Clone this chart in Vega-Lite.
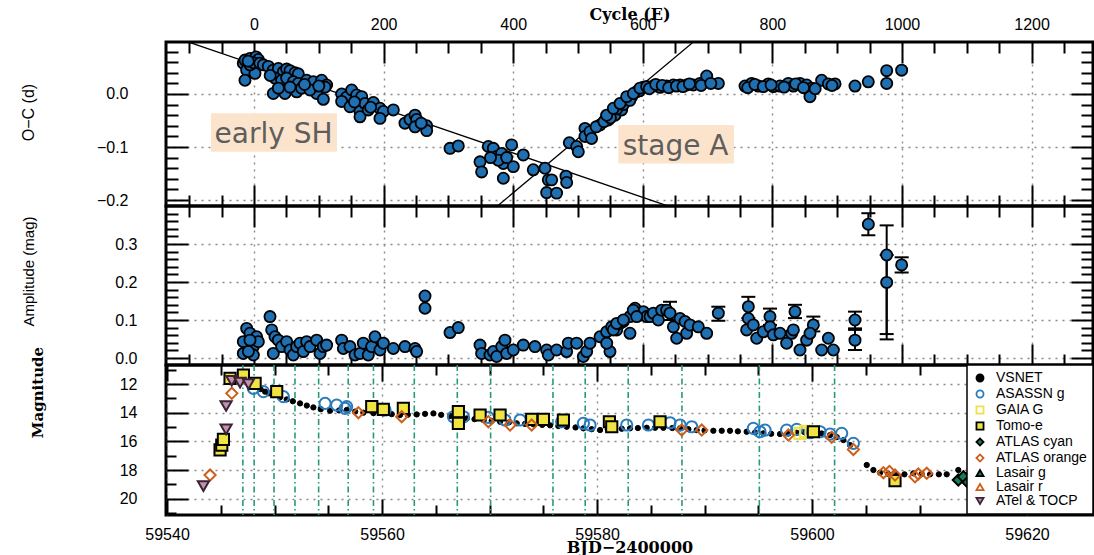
{
  "$schema": "https://vega.github.io/schema/vega-lite/v6.json",
  "autosize": "none",
  "padding": {"left": 166, "top": 42, "right": 1, "bottom": 513},
  "background": "white",
  "spacing": 0,
  "bounds": "flush",
  "resolve": {
    "scale": {"x": "independent", "y": "independent", "shape": "independent", "fill": "independent", "stroke": "independent"},
    "legend": {"shape": "independent", "fill": "independent", "stroke": "independent"}
  },
  "datasets": {
    "oc": [
      {"cycle": -16.5, "oc": 0.058}, {"cycle": -13.9, "oc": 0.064}, {"cycle": -6.2, "oc": 0.067}, {"cycle": 3.1, "oc": 0.07}, {"cycle": 6.7, "oc": 0.065}, {"cycle": -11.3, "oc": 0.045}, {"cycle": 1.5, "oc": 0.039}, {"cycle": -13.9, "oc": 0.026}, {"cycle": -6.2, "oc": 0.055}, {"cycle": -1, "oc": 0.059}, {"cycle": -9, "oc": 0.062}, {"cycle": 9, "oc": 0.058},
      {"cycle": 14.4, "oc": 0.055}, {"cycle": 22.1, "oc": 0.052}, {"cycle": 29.8, "oc": 0.045}, {"cycle": 37.6, "oc": 0.048}, {"cycle": 45.3, "oc": 0.042}, {"cycle": 50.4, "oc": 0.047}, {"cycle": 55.6, "oc": 0.044}, {"cycle": 63.3, "oc": 0.04}, {"cycle": 68.4, "oc": 0.038}, {"cycle": 32.4, "oc": 0.03}, {"cycle": 42.7, "oc": 0.026}, {"cycle": 50.4, "oc": 0.03}, {"cycle": 60.7, "oc": 0.023}, {"cycle": 68.4, "oc": 0.02}, {"cycle": 81.3, "oc": 0.026}, {"cycle": 91.6, "oc": 0.023}, {"cycle": 104.4, "oc": 0.026}, {"cycle": 112.1, "oc": 0.017}, {"cycle": 29.8, "oc": 0.001}, {"cycle": 47.8, "oc": 0.001}, {"cycle": 65.8, "oc": 0.004}, {"cycle": 96.7, "oc": 0.001}, {"cycle": 107, "oc": -0.01}, {"cycle": 109.6, "oc": 0.013}, {"cycle": 73.6, "oc": 0.011}, {"cycle": 86.4, "oc": 0.0075}, {"cycle": 37.6, "oc": 0.011}, {"cycle": 55.6, "oc": 0.013}, {"cycle": 25, "oc": 0.035}, {"cycle": 78, "oc": 0.018}, {"cycle": 100, "oc": 0.015},
      {"cycle": 135.3, "oc": 0.0}, {"cycle": 143, "oc": -0.006}, {"cycle": 150.7, "oc": 0.0075}, {"cycle": 158.4, "oc": -0.002}, {"cycle": 166.2, "oc": -0.005}, {"cycle": 135.3, "oc": -0.014}, {"cycle": 148.1, "oc": -0.024}, {"cycle": 163.6, "oc": -0.033}, {"cycle": 163.6, "oc": -0.043}, {"cycle": 171.3, "oc": -0.018}, {"cycle": 184.2, "oc": -0.016}, {"cycle": 194.4, "oc": -0.027}, {"cycle": 199.6, "oc": -0.033}, {"cycle": 194.4, "oc": -0.046}, {"cycle": 215, "oc": -0.03}, {"cycle": 233, "oc": -0.055}, {"cycle": 240.7, "oc": -0.048}, {"cycle": 248.5, "oc": -0.04}, {"cycle": 251, "oc": -0.048}, {"cycle": 266.5, "oc": -0.06}, {"cycle": 266.5, "oc": -0.069}, {"cycle": 248.5, "oc": -0.062}, {"cycle": 176.4, "oc": -0.03}, {"cycle": 155, "oc": -0.015}, {"cycle": 180, "oc": -0.025}, {"cycle": 258, "oc": -0.055},
      {"cycle": 302.5, "oc": -0.1025}, {"cycle": 315.3, "oc": -0.098},
      {"cycle": 348.8, "oc": -0.128}, {"cycle": 351.3, "oc": -0.147}, {"cycle": 361.6, "oc": -0.099}, {"cycle": 369.3, "oc": -0.1025}, {"cycle": 374.5, "oc": -0.118}, {"cycle": 382.2, "oc": -0.112}, {"cycle": 384.8, "oc": -0.131}, {"cycle": 384.8, "oc": -0.159}, {"cycle": 397.6, "oc": -0.096}, {"cycle": 400.2, "oc": -0.137}, {"cycle": 415.6, "oc": -0.115}, {"cycle": 431, "oc": -0.143}, {"cycle": 449.1, "oc": -0.14}, {"cycle": 454.2, "oc": -0.162}, {"cycle": 459.4, "oc": -0.162}, {"cycle": 451.6, "oc": -0.186}, {"cycle": 467, "oc": -0.187}, {"cycle": 481.5, "oc": -0.155}, {"cycle": 482.5, "oc": -0.167}, {"cycle": 377, "oc": -0.125}, {"cycle": 365, "oc": -0.12}, {"cycle": 390, "oc": -0.12},
      {"cycle": 486.6, "oc": -0.092}, {"cycle": 498, "oc": -0.099}, {"cycle": 500.5, "oc": -0.109}, {"cycle": 510.8, "oc": -0.065}, {"cycle": 510.8, "oc": -0.08}, {"cycle": 518.5, "oc": -0.071}, {"cycle": 521, "oc": -0.084}, {"cycle": 534, "oc": -0.0585}, {"cycle": 544.2, "oc": -0.043}, {"cycle": 554.5, "oc": -0.033}, {"cycle": 564.8, "oc": -0.019}, {"cycle": 575.1, "oc": -0.01}, {"cycle": 582.8, "oc": -0.005}, {"cycle": 590.5, "oc": 0.0044}, {"cycle": 600.8, "oc": 0.0126}, {"cycle": 546.8, "oc": -0.049}, {"cycle": 557.1, "oc": -0.04}, {"cycle": 567.4, "oc": -0.03}, {"cycle": 528, "oc": -0.062}, {"cycle": 540, "oc": -0.052}, {"cycle": 550, "oc": -0.045}, {"cycle": 560, "oc": -0.028}, {"cycle": 570, "oc": -0.02}, {"cycle": 580, "oc": -0.012}, {"cycle": 595, "oc": 0.006}, {"cycle": 544.3, "oc": -0.04}, {"cycle": 554.6, "oc": -0.027}, {"cycle": 564.9, "oc": -0.018}, {"cycle": 575.2, "oc": -0.005}, {"cycle": 585.4, "oc": 0.001}, {"cycle": 595.7, "oc": 0.011},
      {"cycle": 606, "oc": 0.014}, {"cycle": 616.3, "oc": 0.015}, {"cycle": 626.6, "oc": 0.0126}, {"cycle": 636.9, "oc": 0.015}, {"cycle": 647.2, "oc": 0.017}, {"cycle": 657.5, "oc": 0.017}, {"cycle": 667.7, "oc": 0.017}, {"cycle": 678, "oc": 0.017}, {"cycle": 688.3, "oc": 0.02}, {"cycle": 698.6, "oc": 0.034}, {"cycle": 716.6, "oc": 0.02}, {"cycle": 610, "oc": 0.01}, {"cycle": 620, "oc": 0.018}, {"cycle": 630, "oc": 0.016}, {"cycle": 640, "oc": 0.012}, {"cycle": 652, "oc": 0.015}, {"cycle": 662, "oc": 0.014}, {"cycle": 672, "oc": 0.019}, {"cycle": 690, "oc": 0.016}, {"cycle": 705, "oc": 0.02},
      {"cycle": 757.8, "oc": 0.015}, {"cycle": 768, "oc": 0.02}, {"cycle": 778.3, "oc": 0.015}, {"cycle": 793.8, "oc": 0.019}, {"cycle": 801.5, "oc": 0.014}, {"cycle": 811.8, "oc": 0.015}, {"cycle": 824.6, "oc": 0.02}, {"cycle": 832.4, "oc": 0.015}, {"cycle": 842.6, "oc": 0.02}, {"cycle": 852.9, "oc": 0.017}, {"cycle": 860.6, "oc": 0.011}, {"cycle": 858, "oc": -0.005}, {"cycle": 876, "oc": 0.026}, {"cycle": 886.4, "oc": 0.019}, {"cycle": 896.7, "oc": 0.019}, {"cycle": 762, "oc": 0.012}, {"cycle": 773, "oc": 0.018}, {"cycle": 786, "oc": 0.014}, {"cycle": 798, "oc": 0.017}, {"cycle": 818, "oc": 0.013}, {"cycle": 836, "oc": 0.019}, {"cycle": 848, "oc": 0.012}, {"cycle": 866, "oc": 0.01}, {"cycle": 892, "oc": 0.016},
      {"cycle": 927.5, "oc": 0.015}, {"cycle": 948, "oc": 0.023}, {"cycle": 976.4, "oc": 0.044}, {"cycle": 976.4, "oc": 0.02}, {"cycle": 999.5, "oc": 0.045}
    ],
    "fits": [
      {"fit": "early SH", "cycle": -99.8, "oc": 0.0975}, {"fit": "early SH", "cycle": 642, "oc": -0.2126},
      {"fit": "stage A", "cycle": 374.5, "oc": -0.2126}, {"fit": "stage A", "cycle": 677.5, "oc": 0.0975}
    ],
    "notes": [
      {"label": "early SH", "c1": -66.4, "c2": 128.1, "o1": -0.0364, "o2": -0.1089, "cx": 30.1, "cy": -0.093},
      {"label": "stage A", "c1": 562.2, "c2": 740.7, "o1": -0.0585, "o2": -0.131, "cx": 650.6, "cy": -0.115}
    ],
    "amp": [
      {"cycle": -16.5, "amp": 0.012}, {"cycle": -11.3, "amp": 0.078}, {"cycle": -6.2, "amp": 0.065}, {"cycle": -16.5, "amp": 0.043}, {"cycle": -1, "amp": 0.03}, {"cycle": 4.1, "amp": 0.056}, {"cycle": 6.7, "amp": 0.043}, {"cycle": -1, "amp": 0.008}, {"cycle": -8.7, "amp": 0.017}, {"cycle": -6.2, "amp": 0.047},
      {"cycle": 24.7, "amp": 0.109}, {"cycle": 27.3, "amp": 0.074}, {"cycle": 32.4, "amp": 0.056}, {"cycle": 29.8, "amp": 0.012}, {"cycle": 37.6, "amp": 0.047}, {"cycle": 42.7, "amp": 0.03}, {"cycle": 50.4, "amp": 0.043}, {"cycle": 55.6, "amp": 0.021}, {"cycle": 60.7, "amp": 0.008}, {"cycle": 65.8, "amp": 0.03}, {"cycle": 71, "amp": 0.039}, {"cycle": 76.1, "amp": 0.017}, {"cycle": 81.3, "amp": 0.043}, {"cycle": 86.4, "amp": 0.03}, {"cycle": 96.7, "amp": 0.047}, {"cycle": 101.9, "amp": 0.012}, {"cycle": 107, "amp": 0.03}, {"cycle": 112.1, "amp": 0.034},
      {"cycle": 135.3, "amp": 0.047}, {"cycle": 137.9, "amp": 0.025}, {"cycle": 148.1, "amp": 0.03}, {"cycle": 155.9, "amp": 0.008}, {"cycle": 163.6, "amp": 0.012}, {"cycle": 168.7, "amp": 0.039}, {"cycle": 176.4, "amp": 0.008}, {"cycle": 181.6, "amp": 0.03}, {"cycle": 186.7, "amp": 0.056}, {"cycle": 194.4, "amp": 0.021}, {"cycle": 199.6, "amp": 0.039}, {"cycle": 215, "amp": 0.025}, {"cycle": 233, "amp": 0.03}, {"cycle": 248.5, "amp": 0.025}, {"cycle": 251, "amp": 0.017},
      {"cycle": 263.9, "amp": 0.163}, {"cycle": 263.9, "amp": 0.131}, {"cycle": 302.5, "amp": 0.067}, {"cycle": 315.3, "amp": 0.08},
      {"cycle": 348.8, "amp": 0.034}, {"cycle": 351.3, "amp": 0.012}, {"cycle": 364.2, "amp": 0.008}, {"cycle": 369.3, "amp": 0.017}, {"cycle": 374.5, "amp": 0.004}, {"cycle": 382.2, "amp": 0.03}, {"cycle": 387.3, "amp": 0.047}, {"cycle": 389.9, "amp": 0.012}, {"cycle": 400.2, "amp": 0.021}, {"cycle": 415.6, "amp": 0.034}, {"cycle": 433.6, "amp": 0.03}, {"cycle": 451.6, "amp": 0.021}, {"cycle": 454.2, "amp": 0.008}, {"cycle": 467, "amp": 0.021}, {"cycle": 482.5, "amp": 0.017}, {"cycle": 485.1, "amp": 0.039}, {"cycle": 497.9, "amp": 0.039}, {"cycle": 508.2, "amp": 0.004}, {"cycle": 513.4, "amp": 0.017}, {"cycle": 518.5, "amp": 0.039},
      {"cycle": 534, "amp": 0.056}, {"cycle": 544.2, "amp": 0.069}, {"cycle": 549.4, "amp": 0.017}, {"cycle": 552, "amp": 0.082}, {"cycle": 559.7, "amp": 0.074}, {"cycle": 564.8, "amp": 0.091}, {"cycle": 570, "amp": 0.096}, {"cycle": 580.2, "amp": 0.065}, {"cycle": 580.2, "amp": 0.109}, {"cycle": 588, "amp": 0.131}, {"cycle": 595.7, "amp": 0.113}, {"cycle": 600.8, "amp": 0.122}, {"cycle": 606, "amp": 0.109}, {"cycle": 544.3, "amp": 0.039}, {"cycle": 554.6, "amp": 0.074}, {"cycle": 559.7, "amp": 0.091}, {"cycle": 570, "amp": 0.1}, {"cycle": 585.4, "amp": 0.126}, {"cycle": 590.6, "amp": 0.109},
      {"cycle": 611.2, "amp": 0.109}, {"cycle": 616.3, "amp": 0.118}, {"cycle": 624, "amp": 0.1}, {"cycle": 629.2, "amp": 0.126}, {"cycle": 636.9, "amp": 0.126}, {"cycle": 642, "amp": 0.118}, {"cycle": 647.2, "amp": 0.082}, {"cycle": 652.3, "amp": 0.052}, {"cycle": 657.5, "amp": 0.104}, {"cycle": 665.2, "amp": 0.096}, {"cycle": 667.7, "amp": 0.065}, {"cycle": 672.9, "amp": 0.087}, {"cycle": 685.7, "amp": 0.082}, {"cycle": 698.6, "amp": 0.065}, {"cycle": 716.6, "amp": 0.118},
      {"cycle": 762.9, "amp": 0.135}, {"cycle": 762.9, "amp": 0.104}, {"cycle": 760.3, "amp": 0.074}, {"cycle": 770.6, "amp": 0.087}, {"cycle": 775.8, "amp": 0.052}, {"cycle": 786, "amp": 0.069}, {"cycle": 796.3, "amp": 0.109}, {"cycle": 796.3, "amp": 0.082}, {"cycle": 801.5, "amp": 0.061}, {"cycle": 811.8, "amp": 0.065}, {"cycle": 822, "amp": 0.039}, {"cycle": 829.8, "amp": 0.065}, {"cycle": 834.9, "amp": 0.122}, {"cycle": 832.4, "amp": 0.074}, {"cycle": 842.6, "amp": 0.021}, {"cycle": 852.9, "amp": 0.047}, {"cycle": 863.2, "amp": 0.087}, {"cycle": 858.1, "amp": 0.065}, {"cycle": 876.1, "amp": 0.021}, {"cycle": 886.4, "amp": 0.052}, {"cycle": 894.1, "amp": 0.021},
      {"cycle": 927.5, "amp": 0.1}, {"cycle": 927.5, "amp": 0.047}, {"cycle": 948.1, "amp": 0.352}, {"cycle": 976.4, "amp": 0.271}, {"cycle": 976.4, "amp": 0.199}, {"cycle": 999.5, "amp": 0.245}
    ],
    "amperr": [
      {"cycle": 948.1, "lo": 0.323, "hi": 0.381}, {"cycle": 976.4, "lo": 0.049, "hi": 0.349}, {"cycle": 976.4, "lo": 0.063, "hi": 0.271}, {"cycle": 999.5, "lo": 0.225, "hi": 0.265},
      {"cycle": 927.5, "lo": 0.078, "hi": 0.122}, {"cycle": 927.5, "lo": 0.021, "hi": 0.074}, {"cycle": 834.9, "lo": 0.105, "hi": 0.14}, {"cycle": 796.3, "lo": 0.087, "hi": 0.13},
      {"cycle": 762.9, "lo": 0.105, "hi": 0.161}, {"cycle": 716.6, "lo": 0.098, "hi": 0.135}, {"cycle": 863.2, "lo": 0.07, "hi": 0.109}, {"cycle": 642, "lo": 0.1, "hi": 0.148}
    ],
    "epochs": [
      {"bjd": 59547.05}, {"bjd": 59548.1}, {"bjd": 59549.95}, {"bjd": 59551.9}, {"bjd": 59554.1}, {"bjd": 59556.85}, {"bjd": 59559.2}, {"bjd": 59563.0}, {"bjd": 59567.0}, {"bjd": 59570.1}, {"bjd": 59575.9}, {"bjd": 59578.9}, {"bjd": 59582.9}, {"bjd": 59587.9}, {"bjd": 59595.1}, {"bjd": 59602.1}
    ],
    "vsnet": [
      {"bjd": 59547.1, "mag": 11.49, "source": "VSNET"}, {"bjd": 59547.4, "mag": 11.7, "source": "VSNET"}, {"bjd": 59547.72, "mag": 11.84, "source": "VSNET"}, {"bjd": 59548.0, "mag": 12.0, "source": "VSNET"}, {"bjd": 59548.34, "mag": 12.19, "source": "VSNET"}, {"bjd": 59548.7, "mag": 12.35, "source": "VSNET"}, {"bjd": 59549.12, "mag": 12.53, "source": "VSNET"}, {"bjd": 59549.5, "mag": 12.65, "source": "VSNET"}, {"bjd": 59549.89, "mag": 12.77, "source": "VSNET"}, {"bjd": 59550.5, "mag": 12.93, "source": "VSNET"},
      {"bjd": 59551.13, "mag": 13.07, "source": "VSNET"}, {"bjd": 59551.7, "mag": 13.2, "source": "VSNET"}, {"bjd": 59552.37, "mag": 13.35, "source": "VSNET"}, {"bjd": 59553.0, "mag": 13.5, "source": "VSNET"}, {"bjd": 59553.61, "mag": 13.63, "source": "VSNET"}, {"bjd": 59554.3, "mag": 13.75, "source": "VSNET"}, {"bjd": 59555.16, "mag": 13.86, "source": "VSNET"}, {"bjd": 59556.0, "mag": 13.84, "source": "VSNET"}, {"bjd": 59556.71, "mag": 13.81, "source": "VSNET"}, {"bjd": 59557.5, "mag": 13.92, "source": "VSNET"},
      {"bjd": 59558.26, "mag": 14.0, "source": "VSNET"}, {"bjd": 59559.2, "mag": 14.03, "source": "VSNET"}, {"bjd": 59560.12, "mag": 14.05, "source": "VSNET"}, {"bjd": 59560.9, "mag": 14.1, "source": "VSNET"}, {"bjd": 59561.67, "mag": 14.16, "source": "VSNET"}, {"bjd": 59562.4, "mag": 14.14, "source": "VSNET"}, {"bjd": 59563.22, "mag": 14.12, "source": "VSNET"}, {"bjd": 59564.0, "mag": 14.08, "source": "VSNET"}, {"bjd": 59564.78, "mag": 14.05, "source": "VSNET"}, {"bjd": 59565.5, "mag": 14.15, "source": "VSNET"},
      {"bjd": 59566.33, "mag": 14.23, "source": "VSNET"}, {"bjd": 59567.1, "mag": 14.32, "source": "VSNET"}, {"bjd": 59567.88, "mag": 14.4, "source": "VSNET"}, {"bjd": 59568.6, "mag": 14.45, "source": "VSNET"}, {"bjd": 59569.43, "mag": 14.51, "source": "VSNET"}, {"bjd": 59570.2, "mag": 14.57, "source": "VSNET"}, {"bjd": 59570.98, "mag": 14.63, "source": "VSNET"}, {"bjd": 59571.8, "mag": 14.68, "source": "VSNET"}, {"bjd": 59572.53, "mag": 14.74, "source": "VSNET"}, {"bjd": 59573.3, "mag": 14.78, "source": "VSNET"},
      {"bjd": 59574.08, "mag": 14.81, "source": "VSNET"}, {"bjd": 59574.9, "mag": 14.85, "source": "VSNET"}, {"bjd": 59575.63, "mag": 14.88, "source": "VSNET"}, {"bjd": 59576.4, "mag": 14.93, "source": "VSNET"}, {"bjd": 59577.18, "mag": 14.98, "source": "VSNET"}, {"bjd": 59578.0, "mag": 15.03, "source": "VSNET"}, {"bjd": 59578.73, "mag": 15.09, "source": "VSNET"}, {"bjd": 59579.5, "mag": 15.15, "source": "VSNET"}, {"bjd": 59580.28, "mag": 15.21, "source": "VSNET"}, {"bjd": 59581.0, "mag": 15.16, "source": "VSNET"},
      {"bjd": 59581.52, "mag": 15.16, "source": "VSNET"}, {"bjd": 59582.3, "mag": 15.12, "source": "VSNET"}, {"bjd": 59583.07, "mag": 15.09, "source": "VSNET"}, {"bjd": 59583.8, "mag": 15.07, "source": "VSNET"}, {"bjd": 59584.62, "mag": 15.05, "source": "VSNET"}, {"bjd": 59585.4, "mag": 15.05, "source": "VSNET"}, {"bjd": 59586.17, "mag": 15.05, "source": "VSNET"}, {"bjd": 59587.0, "mag": 15.07, "source": "VSNET"}, {"bjd": 59587.72, "mag": 15.09, "source": "VSNET"}, {"bjd": 59588.5, "mag": 15.15, "source": "VSNET"},
      {"bjd": 59589.27, "mag": 15.21, "source": "VSNET"}, {"bjd": 59590.0, "mag": 15.24, "source": "VSNET"}, {"bjd": 59590.82, "mag": 15.26, "source": "VSNET"}, {"bjd": 59591.6, "mag": 15.26, "source": "VSNET"}, {"bjd": 59592.37, "mag": 15.26, "source": "VSNET"}, {"bjd": 59593.1, "mag": 15.3, "source": "VSNET"}, {"bjd": 59593.92, "mag": 15.33, "source": "VSNET"}, {"bjd": 59594.7, "mag": 15.38, "source": "VSNET"}, {"bjd": 59595.47, "mag": 15.44, "source": "VSNET"}, {"bjd": 59596.2, "mag": 15.47, "source": "VSNET"},
      {"bjd": 59597.02, "mag": 15.49, "source": "VSNET"}, {"bjd": 59597.8, "mag": 15.45, "source": "VSNET"}, {"bjd": 59598.58, "mag": 15.4, "source": "VSNET"}, {"bjd": 59599.3, "mag": 15.36, "source": "VSNET"}, {"bjd": 59600.13, "mag": 15.33, "source": "VSNET"}, {"bjd": 59600.9, "mag": 15.45, "source": "VSNET"}, {"bjd": 59601.68, "mag": 15.56, "source": "VSNET"}, {"bjd": 59602.3, "mag": 15.7, "source": "VSNET"}, {"bjd": 59602.92, "mag": 15.91, "source": "VSNET"}, {"bjd": 59603.54, "mag": 16.26, "source": "VSNET"},
      {"bjd": 59605.09, "mag": 17.65, "source": "VSNET"}, {"bjd": 59605.71, "mag": 18.0, "source": "VSNET"}, {"bjd": 59606.33, "mag": 18.19, "source": "VSNET"}, {"bjd": 59607.1, "mag": 18.28, "source": "VSNET"}, {"bjd": 59607.88, "mag": 18.35, "source": "VSNET"}, {"bjd": 59608.6, "mag": 18.3, "source": "VSNET"}, {"bjd": 59609.43, "mag": 18.23, "source": "VSNET"}, {"bjd": 59610.2, "mag": 18.27, "source": "VSNET"}, {"bjd": 59610.98, "mag": 18.3, "source": "VSNET"}, {"bjd": 59611.8, "mag": 18.3, "source": "VSNET"},
      {"bjd": 59612.53, "mag": 18.3, "source": "VSNET"}, {"bjd": 59613.61, "mag": 18.0, "source": "VSNET"}, {"bjd": 59614.39, "mag": 18.35, "source": "VSNET"}
    ],
    "others": [
      {"bjd": 59548.03, "mag": 12.3, "source": "ASASSN g"}, {"bjd": 59548.96, "mag": 12.53, "source": "ASASSN g"}, {"bjd": 59550.82, "mag": 12.88, "source": "ASASSN g"}, {"bjd": 59554.7, "mag": 13.35, "source": "ASASSN g"}, {"bjd": 59555.78, "mag": 13.47, "source": "ASASSN g"}, {"bjd": 59556.56, "mag": 13.7, "source": "ASASSN g"}, {"bjd": 59556.71, "mag": 13.58, "source": "ASASSN g"}, {"bjd": 59560.28, "mag": 13.81, "source": "ASASSN g"}, {"bjd": 59566.64, "mag": 14.28, "source": "ASASSN g"}, {"bjd": 59567.57, "mag": 14.28, "source": "ASASSN g"}, {"bjd": 59569.89, "mag": 14.33, "source": "ASASSN g"}, {"bjd": 59571.44, "mag": 14.51, "source": "ASASSN g"}, {"bjd": 59572.84, "mag": 14.51, "source": "ASASSN g"}, {"bjd": 59576.71, "mag": 14.63, "source": "ASASSN g"}, {"bjd": 59578.73, "mag": 14.74, "source": "ASASSN g"}, {"bjd": 59579.35, "mag": 14.86, "source": "ASASSN g"}, {"bjd": 59582.76, "mag": 14.86, "source": "ASASSN g"}, {"bjd": 59584.78, "mag": 14.86, "source": "ASASSN g"}, {"bjd": 59586.79, "mag": 14.7, "source": "ASASSN g"}, {"bjd": 59587.72, "mag": 14.86, "source": "ASASSN g"}, {"bjd": 59588.81, "mag": 14.98, "source": "ASASSN g"}, {"bjd": 59594.54, "mag": 15.09, "source": "ASASSN g"}, {"bjd": 59595.16, "mag": 15.33, "source": "ASASSN g"}, {"bjd": 59595.63, "mag": 15.21, "source": "ASASSN g"}, {"bjd": 59597.64, "mag": 15.21, "source": "ASASSN g"}, {"bjd": 59598.58, "mag": 15.16, "source": "ASASSN g"}, {"bjd": 59599.82, "mag": 15.4, "source": "ASASSN g"}, {"bjd": 59600.75, "mag": 15.33, "source": "ASASSN g"}, {"bjd": 59601.68, "mag": 15.49, "source": "ASASSN g"}, {"bjd": 59602.76, "mag": 15.44, "source": "ASASSN g"}, {"bjd": 59603.85, "mag": 16.14, "source": "ASASSN g"},
      {"bjd": 59598.89, "mag": 15.44, "source": "GAIA G"}, {"bjd": 59599.4, "mag": 15.3, "source": "GAIA G"},
      {"bjd": 59544.93, "mag": 16.6, "source": "Tomo-e"}, {"bjd": 59545.09, "mag": 16.26, "source": "Tomo-e"}, {"bjd": 59545.24, "mag": 15.86, "source": "Tomo-e"}, {"bjd": 59545.86, "mag": 11.6, "source": "Tomo-e"}, {"bjd": 59547.1, "mag": 11.37, "source": "Tomo-e"}, {"bjd": 59548.19, "mag": 11.95, "source": "Tomo-e"}, {"bjd": 59550.2, "mag": 12.53, "source": "Tomo-e"}, {"bjd": 59559.04, "mag": 13.58, "source": "Tomo-e"}, {"bjd": 59560.12, "mag": 13.77, "source": "Tomo-e"}, {"bjd": 59561.98, "mag": 13.7, "source": "Tomo-e"}, {"bjd": 59567.1, "mag": 13.93, "source": "Tomo-e"}, {"bjd": 59567.1, "mag": 14.74, "source": "Tomo-e"}, {"bjd": 59569.12, "mag": 14.16, "source": "Tomo-e"}, {"bjd": 59570.98, "mag": 14.16, "source": "Tomo-e"}, {"bjd": 59573.92, "mag": 14.47, "source": "Tomo-e"}, {"bjd": 59575.01, "mag": 14.47, "source": "Tomo-e"}, {"bjd": 59576.87, "mag": 14.51, "source": "Tomo-e"}, {"bjd": 59581.15, "mag": 14.63, "source": "Tomo-e"}, {"bjd": 59581.37, "mag": 14.98, "source": "Tomo-e"}, {"bjd": 59585.86, "mag": 14.63, "source": "Tomo-e"}, {"bjd": 59600.13, "mag": 15.33, "source": "Tomo-e"}, {"bjd": 59607.72, "mag": 18.74, "source": "Tomo-e"},
      {"bjd": 59613.61, "mag": 18.7, "source": "ATLAS cyan"}, {"bjd": 59614.08, "mag": 18.47, "source": "ATLAS cyan"}, {"bjd": 59614.5, "mag": 18.85, "source": "ATLAS cyan"}, {"bjd": 59616.5, "mag": 18.7, "source": "ATLAS cyan"}, {"bjd": 59619.0, "mag": 18.9, "source": "ATLAS cyan"},
      {"bjd": 59544.0, "mag": 18.35, "source": "ATLAS orange"}, {"bjd": 59546.02, "mag": 12.65, "source": "ATLAS orange"}, {"bjd": 59557.8, "mag": 14.0, "source": "ATLAS orange"}, {"bjd": 59561.83, "mag": 14.28, "source": "ATLAS orange"}, {"bjd": 59569.89, "mag": 14.63, "source": "ATLAS orange"}, {"bjd": 59571.91, "mag": 14.86, "source": "ATLAS orange"}, {"bjd": 59573.92, "mag": 14.86, "source": "ATLAS orange"}, {"bjd": 59587.88, "mag": 15.21, "source": "ATLAS orange"}, {"bjd": 59589.74, "mag": 15.21, "source": "ATLAS orange"}, {"bjd": 59597.8, "mag": 15.56, "source": "ATLAS orange"}, {"bjd": 59601.83, "mag": 15.72, "source": "ATLAS orange"}, {"bjd": 59603.85, "mag": 16.56, "source": "ATLAS orange"}, {"bjd": 59606.64, "mag": 18.19, "source": "ATLAS orange"}, {"bjd": 59607.72, "mag": 18.35, "source": "ATLAS orange"}, {"bjd": 59609.58, "mag": 18.47, "source": "ATLAS orange"}, {"bjd": 59610.67, "mag": 18.23, "source": "ATLAS orange"}, {"bjd": 59609.89, "mag": 18.28, "source": "ATLAS orange"}, {"bjd": 59607.2, "mag": 18.1, "source": "ATLAS orange"},
      {"bjd": 59617.5, "mag": 19.0, "source": "Lasair g"}, {"bjd": 59618.5, "mag": 18.5, "source": "Lasair r"},
      {"bjd": 59543.38, "mag": 19.12, "source": "ATel & TOCP"}, {"bjd": 59545.49, "mag": 13.53, "source": "ATel & TOCP"}, {"bjd": 59545.49, "mag": 15.16, "source": "ATel & TOCP"}, {"bjd": 59546.02, "mag": 11.77, "source": "ATel & TOCP"}, {"bjd": 59546.79, "mag": 11.9, "source": "ATel & TOCP"}, {"bjd": 59547.57, "mag": 12.0, "source": "ATel & TOCP"}
    ]
  },
  "vconcat": [
    {
      "width": 927,
      "height": 164,
      "resolve": {"axis": {"x": "independent", "y": "independent"}},
      "layer": [
        {
          "data": {"name": "fits"},
          "mark": {"type": "line", "color": "black", "strokeWidth": 1.3, "clip": true},
          "encoding": {
            "x": {"field": "cycle", "type": "quantitative", "scale": {"domain": [-135.8, 1294.8], "nice": false, "zero": false},
              "axis": {"orient": "top", "values": [-100,-50,0,50,100,150,200,250,300,350,400,450,500,550,600,650,700,750,800,850,900,950,1000,1050,1100,1150,1200,1250], "format": "d",
                "labelExpr": "datum.value % 200 === 0 ? datum.label : ''",
                "tickSize": {"condition": {"test": "datum.value % 200 === 0", "value": -21}, "value": -11},
                "labelPadding": 31, "grid": true,
                "gridOpacity": {"condition": {"test": "datum.value % 200 === 0", "value": 1}, "value": 0},
                "title": "Cycle (E)", "titleFont": "DejaVu Serif", "titleFontWeight": "bold", "titleFontSize": 16, "titleY": -23, "titleBaseline": "alphabetic"}},
            "y": {"field": "oc", "type": "quantitative", "scale": {"domain": [-0.2113, 0.0981], "nice": false, "zero": false},
              "axis": {"orient": "left", "values": [-0.2,-0.18,-0.16,-0.14,-0.12,-0.1,-0.08,-0.06,-0.04,-0.02,0,0.02,0.04,0.06,0.08], "format": ".1f",
                "labelExpr": "abs(datum.value*10-round(datum.value*10)) < 0.001 ? datum.label : ''",
                "tickSize": {"condition": {"test": "abs(datum.value*10-round(datum.value*10)) < 0.001", "value": -22}, "value": -12},
                "labelPadding": 60, "grid": true,
                "gridOpacity": {"condition": {"test": "abs(datum.value*10-round(datum.value*10)) < 0.001", "value": 1}, "value": 0},
                "title": "O−C (d)", "titleFont": "Liberation Sans", "titleFontWeight": "normal", "titleFontSize": 16, "titleX": -138, "titleY": 70, "titleAngle": -90, "titleAlign": "center", "titleBaseline": "middle"}},
            "detail": {"field": "fit"}
          }
        },
        {
          "data": {"name": "notes"},
          "mark": {"type": "rect", "color": "#fce4cc"},
          "encoding": {
            "x": {"field": "c1", "type": "quantitative", "axis": null},
            "x2": {"field": "c2"},
            "y": {"field": "o1", "type": "quantitative", "axis": null},
            "y2": {"field": "o2"}
          }
        },
        {
          "data": {"name": "notes"},
          "mark": {"type": "text", "font": "DejaVu Sans", "fontSize": 28, "color": "#5e5e5e", "align": "center", "baseline": "alphabetic"},
          "encoding": {
            "x": {"field": "cx", "type": "quantitative", "axis": null},
            "y": {"field": "cy", "type": "quantitative", "axis": null},
            "text": {"field": "label"}
          }
        },
        {
          "data": {"name": "oc"},
          "mark": {"type": "circle", "fill": "#1f70b2", "stroke": "black", "strokeWidth": 1.8, "size": 125, "opacity": 1},
          "encoding": {
            "x": {"field": "cycle", "type": "quantitative",
              "axis": {"orient": "bottom", "values": [-100,-50,0,50,100,150,200,250,300,350,400,450,500,550,600,650,700,750,800,850,900,950,1000,1050,1100,1150,1200,1250], "labels": false, "grid": false, "title": null,
                "tickSize": {"condition": {"test": "datum.value % 200 === 0", "value": -21}, "value": -11}}},
            "y": {"field": "oc", "type": "quantitative",
              "axis": {"orient": "right", "values": [-0.2,-0.18,-0.16,-0.14,-0.12,-0.1,-0.08,-0.06,-0.04,-0.02,0,0.02,0.04,0.06,0.08], "labels": false, "grid": false, "title": null,
                "tickSize": {"condition": {"test": "abs(datum.value*10-round(datum.value*10)) < 0.001", "value": -22}, "value": -12}}}
          }
        }
      ]
    },
    {
      "width": 927,
      "height": 159,
      "resolve": {"axis": {"x": "independent", "y": "independent"}},
      "layer": [
        {
          "data": {"name": "amperr"},
          "mark": {"type": "rule", "color": "black", "strokeWidth": 2},
          "encoding": {
            "x": {"field": "cycle", "type": "quantitative", "scale": {"domain": [-135.8, 1294.8], "nice": false, "zero": false},
              "axis": {"orient": "bottom", "values": [-100,-50,0,50,100,150,200,250,300,350,400,450,500,550,600,650,700,750,800,850,900,950,1000,1050,1100,1150,1200,1250], "labels": false, "grid": false, "title": null,
                "tickSize": {"condition": {"test": "datum.value % 200 === 0", "value": -21}, "value": -11}}},
            "y": {"field": "lo", "type": "quantitative", "scale": {"domain": [-0.0184, 0.4], "nice": false, "zero": false},
              "axis": {"orient": "right", "values": [0,0.02,0.04,0.06,0.08,0.1,0.12,0.14,0.16,0.18,0.2,0.22,0.24,0.26,0.28,0.3,0.32,0.34,0.36,0.38], "labels": false, "grid": false, "title": null,
                "tickSize": {"condition": {"test": "abs(datum.value*10-round(datum.value*10)) < 0.001", "value": -22}, "value": -12}}},
            "y2": {"field": "hi"}
          }
        },
        {
          "data": {"name": "amperr"},
          "mark": {"type": "tick", "orient": "horizontal", "color": "black", "size": 14, "thickness": 2, "opacity": 1},
          "encoding": {
            "x": {"field": "cycle", "type": "quantitative", "axis": null},
            "y": {"field": "lo", "type": "quantitative", "axis": null}
          }
        },
        {
          "data": {"name": "amperr"},
          "mark": {"type": "tick", "orient": "horizontal", "color": "black", "size": 14, "thickness": 2, "opacity": 1},
          "encoding": {
            "x": {"field": "cycle", "type": "quantitative", "axis": null},
            "y": {"field": "hi", "type": "quantitative", "axis": null}
          }
        },
        {
          "data": {"name": "amp"},
          "mark": {"type": "circle", "fill": "#1f70b2", "stroke": "black", "strokeWidth": 1.8, "size": 125, "opacity": 1},
          "encoding": {
            "x": {"field": "cycle", "type": "quantitative",
              "axis": {"orient": "top", "values": [-100,-50,0,50,100,150,200,250,300,350,400,450,500,550,600,650,700,750,800,850,900,950,1000,1050,1100,1150,1200,1250], "labels": false, "title": null, "grid": true,
                "gridOpacity": {"condition": {"test": "datum.value % 200 === 0", "value": 1}, "value": 0},
                "tickSize": {"condition": {"test": "datum.value % 200 === 0", "value": -21}, "value": -11}}},
            "y": {"field": "amp", "type": "quantitative",
              "axis": {"orient": "left", "values": [0,0.02,0.04,0.06,0.08,0.1,0.12,0.14,0.16,0.18,0.2,0.22,0.24,0.26,0.28,0.3,0.32,0.34,0.36,0.38], "format": ".1f",
                "labelExpr": "abs(datum.value*10-round(datum.value*10)) < 0.001 ? datum.label : ''",
                "tickSize": {"condition": {"test": "abs(datum.value*10-round(datum.value*10)) < 0.001", "value": -22}, "value": -12},
                "labelPadding": 51, "grid": true,
                "gridOpacity": {"condition": {"test": "abs(datum.value*10-round(datum.value*10)) < 0.001", "value": 1}, "value": 0},
                "title": "Amplitude (mag)", "titleFont": "Liberation Sans", "titleFontWeight": "normal", "titleFontSize": 15, "titleX": -138, "titleY": 65, "titleAngle": -90, "titleAlign": "center", "titleBaseline": "middle"}}
          }
        }
      ]
    },
    {
      "width": 927,
      "height": 150,
      "resolve": {"axis": {"x": "independent", "y": "independent"}},
      "layer": [
        {
          "data": {"name": "epochs"},
          "mark": {"type": "rule", "color": "#2a9a7c", "strokeWidth": 1.6, "strokeDash": [6, 3, 1.5, 3]},
          "encoding": {
            "x": {"field": "bjd", "type": "quantitative", "scale": {"domain": [59539.9, 59626.14], "nice": false, "zero": false}, "axis": null}
          }
        },
        {
          "data": {"name": "vsnet"},
          "mark": {"type": "point", "size": 28, "strokeWidth": 1, "opacity": 1},
          "encoding": {
            "x": {"field": "bjd", "type": "quantitative", "scale": {"domain": [59539.9, 59626.14], "nice": false, "zero": false},
              "axis": {"orient": "bottom", "values": [59540,59545,59550,59555,59560,59565,59570,59575,59580,59585,59590,59595,59600,59605,59610,59615,59620,59625], "format": "d",
                "labelExpr": "datum.value % 20 === 0 ? datum.label : ''",
                "tickSize": {"condition": {"test": "datum.value % 20 === 0", "value": -16}, "value": -10},
                "labelPadding": 27, "grid": true,
                "gridOpacity": {"condition": {"test": "datum.value % 20 === 0", "value": 1}, "value": 0},
                "title": "BJD−2400000", "titleFont": "DejaVu Serif", "titleFontWeight": "bold", "titleFontSize": 16, "titleY": 32, "titleBaseline": "middle"}},
            "y": {"field": "mag", "type": "quantitative", "scale": {"domain": [10.67, 21.14], "reverse": true, "nice": false, "zero": false},
              "axis": {"orient": "left", "values": [11,11.5,12,12.5,13,13.5,14,14.5,15,15.5,16,16.5,17,17.5,18,18.5,19,19.5,20,20.5,21], "format": "d",
                "labelExpr": "datum.value % 2 === 0 ? datum.label : ''",
                "tickSize": {"condition": {"test": "datum.value % 2 === 0", "value": -22}, "value": -10},
                "labelPadding": 51, "grid": true,
                "gridOpacity": {"condition": {"test": "datum.value % 2 === 0", "value": 1}, "value": 0},
                "title": "Magnitude", "titleFont": "DejaVu Serif", "titleFontWeight": "bold", "titleFontSize": 15, "titleX": -129, "titleY": 27, "titleAngle": -90, "titleAlign": "center", "titleBaseline": "middle"}},
            "shape": {"field": "source", "type": "nominal", "scale": {"domain": ["VSNET","ASASSN g","GAIA G","Tomo-e","ATLAS cyan","ATLAS orange","Lasair g","Lasair r","ATel & TOCP"], "range": ["circle","circle","square","square","diamond","diamond","triangle-up","triangle-up","triangle-down"]}, "legend": {"title": null}},
            "fill": {"field": "source", "type": "nominal", "scale": {"domain": ["VSNET","ASASSN g","GAIA G","Tomo-e","ATLAS cyan","ATLAS orange","Lasair g","Lasair r","ATel & TOCP"], "range": ["black","transparent","transparent","#f0e442","#167a5c","transparent","#167a5c","transparent","#c590b3"]}, "legend": {"title": null}},
            "stroke": {"field": "source", "type": "nominal", "scale": {"domain": ["VSNET","ASASSN g","GAIA G","Tomo-e","ATLAS cyan","ATLAS orange","Lasair g","Lasair r","ATel & TOCP"], "range": ["black","#2a7bbd","#f0e04a","black","black","#cd5f1c","black","#cd5f1c","#3a2433"]}, "legend": {"title": null}}
          }
        },
        {
          "data": {"name": "others"},
          "mark": {"type": "point", "size": 125, "strokeWidth": 2, "opacity": 1},
          "encoding": {
            "x": {"field": "bjd", "type": "quantitative",
              "axis": {"orient": "top", "values": [59540,59545,59550,59555,59560,59565,59570,59575,59580,59585,59590,59595,59600,59605,59610,59615,59620,59625], "labels": false, "grid": false, "title": null,
                "tickSize": {"condition": {"test": "datum.value % 20 === 0", "value": -16}, "value": -10}}},
            "y": {"field": "mag", "type": "quantitative",
              "axis": {"orient": "right", "values": [11,11.5,12,12.5,13,13.5,14,14.5,15,15.5,16,16.5,17,17.5,18,18.5,19,19.5,20,20.5,21], "labels": false, "grid": false, "title": null,
                "tickSize": {"condition": {"test": "datum.value % 2 === 0", "value": -22}, "value": -10}}},
            "shape": {"field": "source", "type": "nominal", "legend": {"title": null}},
            "fill": {"field": "source", "type": "nominal", "legend": {"title": null}},
            "stroke": {"field": "source", "type": "nominal", "legend": {"title": null}}
          }
        }
      ]
    }
  ],
  "config": {
    "view": {"stroke": "black", "strokeWidth": 3},
    "axis": {
      "domain": false,
      "labelFont": "Liberation Sans",
      "labelFontSize": 16,
      "labelColor": "black",
      "labelOverlap": false,
      "labelFlush": false,
      "labelBound": false,
      "tickColor": "black",
      "tickWidth": 2,
      "gridColor": "#8a8a8a",
      "gridDash": [2, 5],
      "gridWidth": 1.4,
      "titleColor": "black"
    },
    "legend": {
      "orient": "top-right",
      "offset": 0,
      "padding": 6,
      "strokeColor": "black",
      "strokeWidth": 1.5,
      "fillColor": "white",
      "labelFont": "Liberation Sans",
      "labelFontSize": 14,
      "labelColor": "black",
      "symbolSize": 50,
      "symbolStrokeWidth": 1.8,
      "rowPadding": 0,
      "labelOffset": 9,
      "zindex": 1
    }
  }
}
